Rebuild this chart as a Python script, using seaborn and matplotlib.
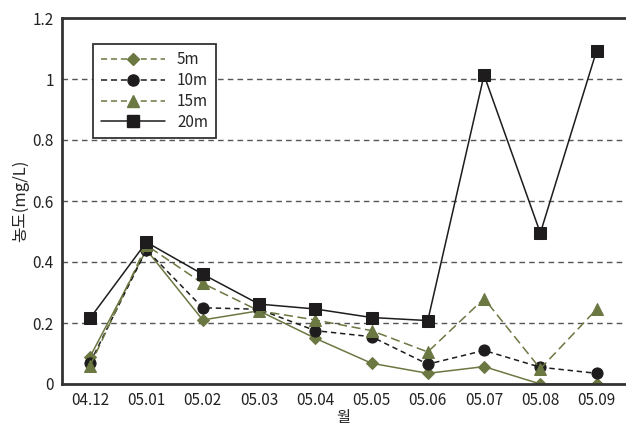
import numpy as np
import pandas as pd
import matplotlib
matplotlib.use("Agg")
import matplotlib.pyplot as plt
from matplotlib.lines import Line2D
import seaborn as sns

months = ["04.12", "05.01", "05.02", "05.03", "05.04", "05.05", "05.06", "05.07", "05.08", "05.09"]
d5m = [0.09, 0.44, 0.21, 0.24, 0.15, 0.068, 0.035, 0.057, 0.0, 0.0]
d10m = [0.07, 0.44, 0.25, 0.245, 0.175, 0.155, 0.065, 0.11, 0.055, 0.035]
d15m = [0.06, 0.455, 0.33, 0.24, 0.21, 0.175, 0.105, 0.28, 0.05, 0.245]
d20m = [0.216, 0.465, 0.36, 0.262, 0.246, 0.218, 0.208, 1.013, 0.495, 1.093]
y_ticks = [0, 0.2, 0.4, 0.6, 0.8, 1, 1.2]
y_tick_labels = ["0", "0.2", "0.4", "0.6", "0.8", "1", "1.2"]

sns.set_style("white")
plt.rcParams["font.family"] = ["Noto Sans CJK KR", "DejaVu Sans"]

olive = "#6b7842"
dark = "#1e1c1c"

fig = plt.figure(figsize=(6.26, 4.32), dpi=100)
ax = fig.add_axes([62 / 626, 48 / 432, 1 - 62 / 626 - 0.002, (384 - 18) / 432])

x = np.arange(len(months))
series = [
    ("5m", d5m, olive, "-", "D", 6),
    ("10m", d10m, dark, (0, (3.5, 2.5)), "o", 8),
    ("15m", d15m, olive, (0, (6, 3)), "^", 9),
    ("20m", d20m, dark, "-", "s", 9),
]
for name, vals, col, ls, mk, ms in series:
    sns.lineplot(x=x, y=vals, ax=ax, color=col, linestyle=ls, marker=mk,
                 markersize=ms, markeredgecolor=col, markerfacecolor=col,
                 linewidth=1.1, legend=False)

for yv in y_ticks[1:-1]:
    ax.axhline(yv, color="#555555", linestyle=(0, (4, 3)), linewidth=1.0, zorder=0)

ax.set_xlim(-0.5, len(months) - 0.5)
ax.set_ylim(0, 1.2)
ax.set_yticks(y_ticks)
ax.set_yticklabels(y_tick_labels)
ax.set_xticks(x)
ax.set_xticklabels(months)
ax.set_xticks(np.arange(0.5, len(months) - 0.5, 1), minor=True)
ax.tick_params(axis="x", which="major", length=0, labelsize=11, colors="#222222", pad=6)
ax.tick_params(axis="x", which="minor", direction="in", length=7, width=1.3, color="#333333")
ax.tick_params(axis="y", direction="in", length=6, width=1.2, labelsize=11, colors="#222222", pad=6)
ax.yaxis.set_tick_params(color="#333333")

for s in ["left", "bottom", "top"]:
    ax.spines[s].set_color("#333333")
    ax.spines[s].set_linewidth(2.0)
ax.spines["right"].set_visible(False)

ax.set_xlabel("월", fontsize=11, labelpad=0)
ax.set_ylabel("농도(mg/L)", fontsize=12, labelpad=2)

handles = [
    Line2D([], [], color=olive, linestyle=(0, (4, 2.5)), marker="D", markersize=6, linewidth=1.1),
    Line2D([], [], color=dark, linestyle=(0, (4, 2.5)), marker="o", markersize=8, linewidth=1.1),
    Line2D([], [], color=olive, linestyle=(0, (4, 2.5)), marker="^", markersize=9, linewidth=1.1),
    Line2D([], [], color=dark, linestyle="-", marker="s", markersize=9, linewidth=1.1),
]
leg = ax.legend(handles, ["5m", "10m", "15m", "20m"], loc="upper left",
                bbox_to_anchor=(0.055, 0.93), fontsize=11, frameon=True, fancybox=False,
                edgecolor="#333333", handlelength=4.2, borderpad=0.5, labelspacing=0.25,
                handletextpad=0.8, borderaxespad=0)
leg.get_frame().set_linewidth(1.3)
leg.get_frame().set_alpha(1)

fig.savefig("out.png", dpi=100)
